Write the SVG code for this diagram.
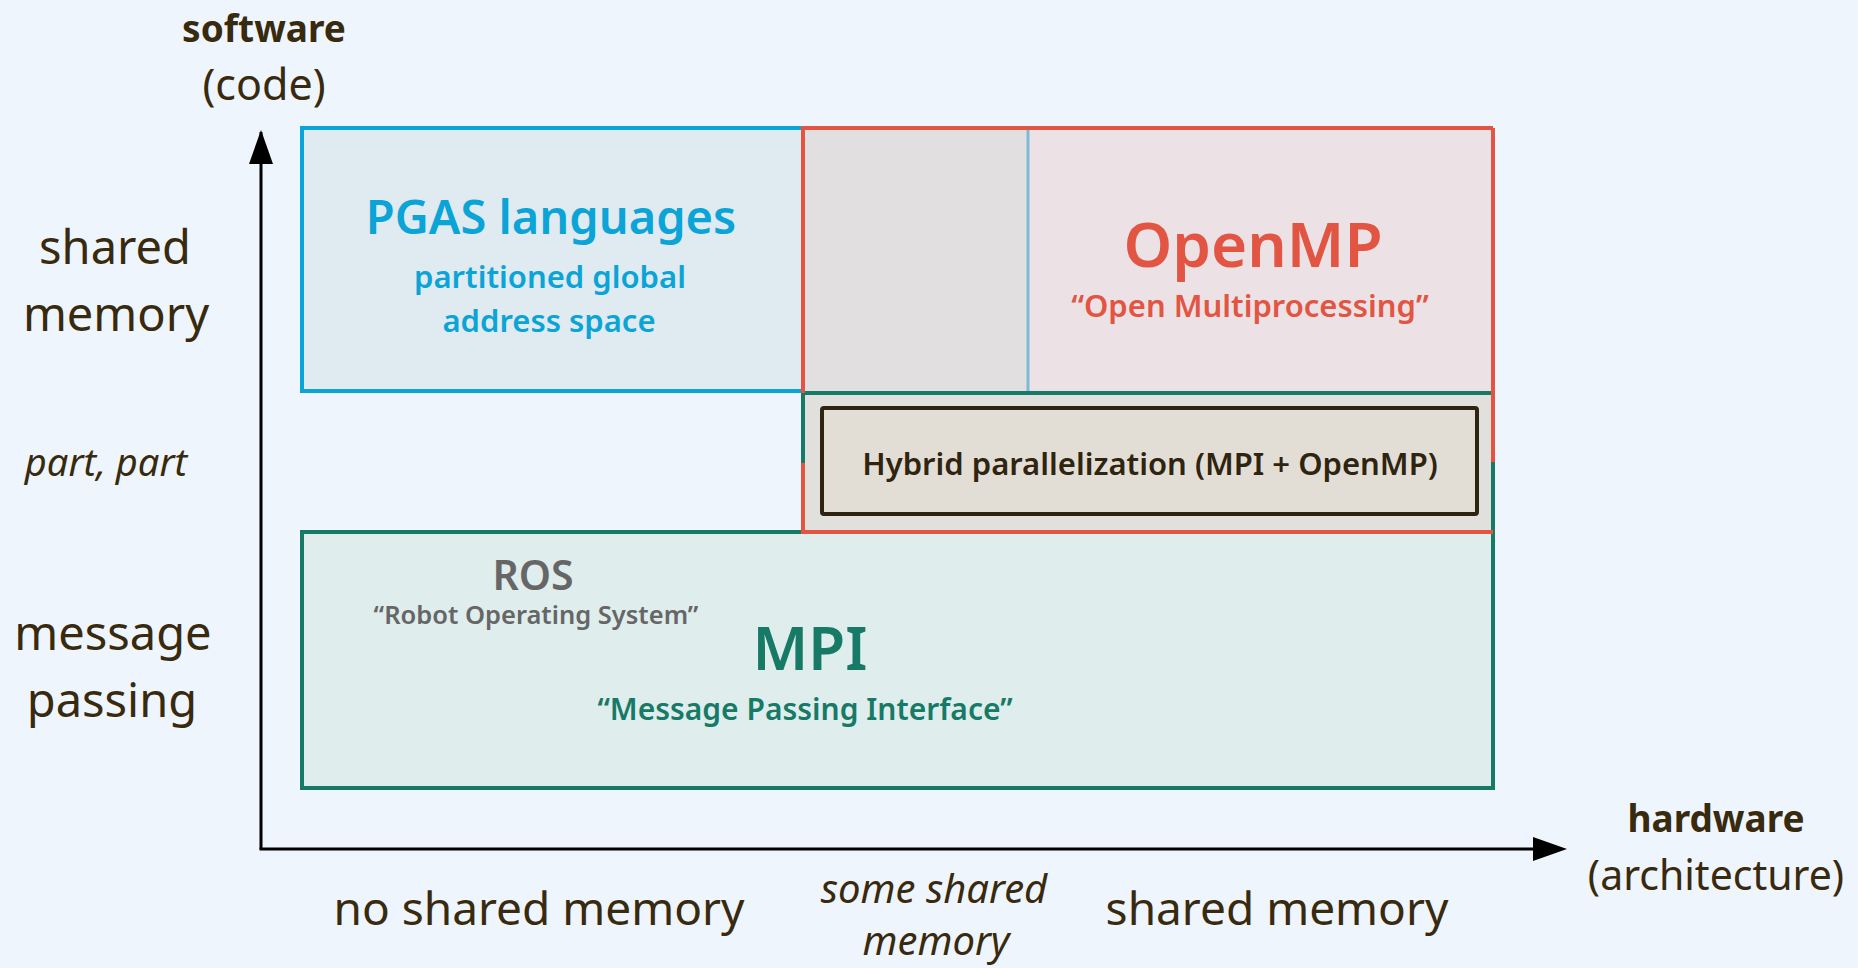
<svg xmlns="http://www.w3.org/2000/svg" width="1858" height="968" viewBox="0 0 1858 968">
<style>
text{font-family:"Noto Sans","Open Sans","Liberation Sans",sans-serif;text-anchor:middle}
.ax{fill:#382a0e}
.axb{fill:#382a0e;font-weight:700;font-size:37px}
.lbl{fill:#382a0e;font-size:47px}
.bot{fill:#382a0e;font-size:46px}
.it{fill:#382a0e;font-style:italic}
.blue{fill:#0aa4d6}
.red{fill:#e25543}
.green{fill:#177a66}
.grey{fill:#666666}
</style>
<rect width="1858" height="968" fill="#eff5fd"/>

<g id="axes">
<line x1="261" y1="849" x2="261" y2="132" stroke="#000" stroke-width="3"/>
<path d="M261,130 L249,164 L273,164 z" fill="#000"/>
<line x1="259.5" y1="849" x2="1535" y2="849" stroke="#000" stroke-width="3"/>
<path d="M1567,849 L1533,837 L1533,861 z" fill="#000"/>
</g>

<g id="pgas">
<rect x="302" y="128" width="501" height="263" fill="#dfeaf1" stroke="#0aa4d6" stroke-width="4"/>
<text class="blue" x="551" y="234" font-size="47" font-weight="600">PGAS languages</text>
<text class="blue" x="550" y="288" font-size="31" font-weight="600">partitioned global</text>
<text class="blue" x="549" y="332" font-size="31" font-weight="600">address space</text>
</g>

<g id="openmp">
<rect x="803" y="128" width="690" height="404" fill="#ece2e5"/>
<rect x="803" y="128" width="225" height="263" fill="#e2dfe0"/>
<line x1="1028" y1="128" x2="1028" y2="391" stroke="#7cbad6" stroke-width="3"/>
<text class="red" x="1253" y="267" font-size="62" font-weight="600">OpenMP</text>
<text class="red" x="1250" y="317" font-size="31" font-weight="600">“Open Multiprocessing”</text>
</g>

<g id="mpi">
<path d="M803,393 L1493,393 L1493,788 L302,788 L302,532 L803,532 z" fill="#dfeded"/>
<rect x="803" y="393" width="690" height="139" fill="#e2e0dc"/>
<path d="M803,463 L803,393 L1493,393 M1493,462 L1493,788 L302,788 L302,532 L803,532" fill="none" stroke="#177a66" stroke-width="4"/>
<path d="M803,463 L803,532 L1493,532 M1493,128 L803,128 L803,393 M1493,128 L1493,462" fill="none" stroke="#e25543" stroke-width="4"/>
<text class="grey" x="533" y="590" font-size="41" font-weight="600">ROS</text>
<text class="grey" x="536" y="624" font-size="25.5" font-weight="600">“Robot Operating System”</text>
<text class="green" x="810" y="670" font-size="60" font-weight="600">MPI</text>
<text class="green" x="805" y="720" font-size="30" font-weight="600">“Message Passing Interface”</text>
</g>

<g id="hybrid">
<rect x="822" y="408" width="655" height="106" rx="2" fill="#e3ded5" stroke="#2e2410" stroke-width="4"/>
<text x="1150" y="475" font-size="31" font-weight="600" fill="#2e2410">Hybrid parallelization (MPI + OpenMP)</text>
</g>

<g id="labels">
<text class="axb" x="264" y="42">software</text>
<text class="ax" x="264" y="100" font-size="43">(code)</text>
<text class="lbl" x="115" y="264">shared</text>
<text class="lbl" x="116" y="331">memory</text>
<text class="it" x="106" y="476" font-size="38">part, part</text>
<text class="lbl" x="113" y="650">message</text>
<text class="lbl" x="112" y="717">passing</text>
<text class="bot" x="539" y="925">no shared memory</text>
<text class="it" x="934" y="903" font-size="40">some shared</text>
<text class="it" x="936" y="955" font-size="40">memory</text>
<text class="bot" x="1277" y="925">shared memory</text>
<text class="axb" x="1716" y="832">hardware</text>
<text class="ax" x="1716" y="890" font-size="41">(architecture)</text>
</g>
</svg>
